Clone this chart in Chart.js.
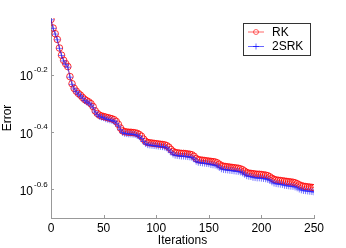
<!DOCTYPE html>
<html lang="en">
  <head>
    <meta charset="UTF-8" />
    <script src="https://cdn.jsdelivr.net/npm/chart.js@4"></script>
    <title>Error vs iterations</title>
    <style>
      body { margin: 0; background: #fff; }
    </style>
  </head>
  <body>
    <canvas id="myChart" width="346" height="248"></canvas>
    <script>
      // iteration number (every 2nd iteration)
      const iterations = [
        0, 2, 4, 6, 8, 10, 12, 14, 16, 18, 20, 22, 24, 26, 28, 30, 32, 34, 36, 38,
        40, 42, 44, 46, 48, 50, 52, 54, 56, 58, 60, 62, 64, 66, 68, 70, 72, 74, 76, 78,
        80, 82, 84, 86, 88, 90, 92, 94, 96, 98, 100, 102, 104, 106, 108, 110, 112, 114, 116, 118,
        120, 122, 124, 126, 128, 130, 132, 134, 136, 138, 140, 142, 144, 146, 148, 150, 152, 154, 156, 158,
        160, 162, 164, 166, 168, 170, 172, 174, 176, 178, 180, 182, 184, 186, 188, 190, 192, 194, 196, 198,
        200, 202, 204, 206, 208, 210, 212, 214, 216, 218, 220, 222, 224, 226, 228, 230, 232, 234, 236, 238,
        240, 242, 244, 246, 248, 250
      ];
      const rkError = [
        0.9886, 0.9226, 0.8810, 0.8414, 0.7852, 0.7413, 0.7112, 0.6918, 0.6761, 0.6237,
        0.5888, 0.5675, 0.5546, 0.5445, 0.5370, 0.5272, 0.5188, 0.5129, 0.5082, 0.5012,
        0.4898, 0.4732, 0.4634, 0.4571, 0.4539, 0.4519, 0.4498, 0.4477, 0.4457, 0.4436,
        0.4406, 0.4345, 0.4246, 0.4121, 0.4027, 0.3999, 0.3990, 0.3981, 0.3981, 0.3972,
        0.3963, 0.3945, 0.3908, 0.3855, 0.3767, 0.3698, 0.3664, 0.3656, 0.3648, 0.3639,
        0.3631, 0.3622, 0.3614, 0.3606, 0.3597, 0.3573, 0.3532, 0.3467, 0.3412, 0.3381,
        0.3373, 0.3365, 0.3357, 0.3357, 0.3350, 0.3342, 0.3334, 0.3319, 0.3281, 0.3221,
        0.3192, 0.3184, 0.3177, 0.3170, 0.3162, 0.3155, 0.3148, 0.3141, 0.3133, 0.3112,
        0.3076, 0.3041, 0.3027, 0.3020, 0.3013, 0.3006, 0.2999, 0.2992, 0.2985, 0.2979,
        0.2965, 0.2944, 0.2911, 0.2877, 0.2864, 0.2858, 0.2851, 0.2844, 0.2838, 0.2838,
        0.2831, 0.2825, 0.2818, 0.2805, 0.2780, 0.2748, 0.2723, 0.2710, 0.2704, 0.2698,
        0.2692, 0.2685, 0.2679, 0.2673, 0.2667, 0.2661, 0.2649, 0.2630, 0.2606, 0.2588,
        0.2576, 0.2570, 0.2564, 0.2559, 0.2553, 0.2547
      ];
      const srkError = [
        0.9856, 0.9198, 0.8784, 0.8389, 0.7828, 0.7391, 0.7076, 0.6883, 0.6727, 0.6206,
        0.5859, 0.5647, 0.5518, 0.5418, 0.5343, 0.5246, 0.5136, 0.5078, 0.5031, 0.4962,
        0.4849, 0.4685, 0.4588, 0.4525, 0.4494, 0.4474, 0.4435, 0.4414, 0.4395, 0.4374,
        0.4344, 0.4284, 0.4187, 0.4063, 0.3971, 0.3943, 0.3934, 0.3925, 0.3925, 0.3916,
        0.3908, 0.3874, 0.3838, 0.3786, 0.3699, 0.3631, 0.3598, 0.3590, 0.3582, 0.3573,
        0.3566, 0.3557, 0.3549, 0.3541, 0.3532, 0.3509, 0.3454, 0.3391, 0.3337, 0.3307,
        0.3299, 0.3291, 0.3283, 0.3283, 0.3276, 0.3268, 0.3261, 0.3246, 0.3209, 0.3150,
        0.3122, 0.3114, 0.3107, 0.3100, 0.3092, 0.3086, 0.3066, 0.3059, 0.3052, 0.3031,
        0.2996, 0.2962, 0.2948, 0.2941, 0.2935, 0.2928, 0.2921, 0.2914, 0.2907, 0.2902,
        0.2888, 0.2867, 0.2835, 0.2802, 0.2790, 0.2784, 0.2765, 0.2759, 0.2753, 0.2753,
        0.2746, 0.2740, 0.2733, 0.2721, 0.2697, 0.2666, 0.2641, 0.2629, 0.2623, 0.2617,
        0.2611, 0.2594, 0.2588, 0.2582, 0.2576, 0.2571, 0.2559, 0.2541, 0.2517, 0.2500,
        0.2488, 0.2483, 0.2477, 0.2472, 0.2466, 0.2460
      ];
      const yTickExponents = [-0.6, -0.4, -0.2];
      const xTicks = [0, 50, 100, 150, 200, 250];

      const FONT = "'Liberation Sans', Arial, sans-serif";
      const AXIS = "#999";

      // MATLAB style: "10" with superscript exponent, inward ticks, boxed legend
      const matlabBits = {
        id: "matlabBits",
        afterDraw(chart) {
          const ctx = chart.ctx;
          const xs = chart.scales.x;
          const ys = chart.scales.y;
          const area = chart.chartArea;
          ctx.save();
          ctx.strokeStyle = AXIS;
          ctx.lineWidth = 1;
          ctx.beginPath();
          xTicks.forEach((t) => {
            const px = Math.round(xs.getPixelForValue(t)) + 0.5;
            ctx.moveTo(px, area.bottom);
            ctx.lineTo(px, area.bottom - 3);
          });
          yTickExponents.forEach((e) => {
            const py = Math.round(ys.getPixelForValue(Math.pow(10, e))) + 0.5;
            ctx.moveTo(area.left, py);
            ctx.lineTo(area.left + 3, py);
          });
          ctx.stroke();

          ctx.fillStyle = "#000";
          yTickExponents.forEach((e) => {
            const py = ys.getPixelForValue(Math.pow(10, e));
            ctx.font = "12px " + FONT;
            ctx.textAlign = "right";
            ctx.textBaseline = "middle";
            ctx.fillText("10", 33, py + 2);
            ctx.font = "8px " + FONT;
            ctx.textAlign = "left";
            ctx.fillText(e.toFixed(1), 34, py - 5);
          });

          // legend
          ctx.fillStyle = "#fff";
          ctx.fillRect(243, 23, 67, 32);
          ctx.strokeStyle = "#333";
          ctx.strokeRect(243.5, 23.5, 67, 32);
          const rows = [
            { label: "RK", color: "#ff0000", y: 32, style: "circle" },
            { label: "2SRK", color: "#0000ff", y: 46.5, style: "plus" },
          ];
          rows.forEach((r) => {
            ctx.strokeStyle = r.color;
            ctx.lineWidth = 0.6;
            ctx.beginPath();
            ctx.moveTo(248, r.y);
            ctx.lineTo(264, r.y);
            ctx.stroke();
            ctx.beginPath();
            if (r.style === "circle") {
              ctx.arc(256, r.y, 2.5, 0, Math.PI * 2);
            } else {
              ctx.moveTo(256, r.y - 3);
              ctx.lineTo(256, r.y + 3);
              ctx.moveTo(253, r.y);
              ctx.lineTo(259, r.y);
            }
            ctx.stroke();
            ctx.fillStyle = "#000";
            ctx.font = "12px " + FONT;
            ctx.textAlign = "left";
            ctx.textBaseline = "middle";
            ctx.fillText(r.label, 272, r.y + 0.5);
          });
          ctx.restore();
        },
      };

      const toPoints = (ys) => iterations.map((x, i) => ({ x: x, y: ys[i] }));

      const ctx = document.getElementById("myChart").getContext("2d");
      const chart = new Chart(ctx, {
        type: "line",
        data: {
          datasets: [
            {
              label: "RK",
              data: toPoints(rkError),
              borderColor: "rgba(255, 0, 0, 0.9)",
              borderWidth: 0.6,
              pointStyle: "circle",
              pointRadius: 3.3,
              pointBorderWidth: 1,
              pointBorderColor: "rgba(255, 0, 0, 0.8)",
              pointBackgroundColor: "rgba(0,0,0,0)",
              order: 1,
            },
            {
              label: "2SRK",
              data: toPoints(srkError),
              borderColor: "rgba(0, 0, 255, 0.9)",
              borderWidth: 0.6,
              pointStyle: "cross",
              pointRadius: 3.3,
              pointBorderWidth: 0.9,
              pointBorderColor: "rgba(40, 40, 255, 0.7)",
              order: 0,
            },
          ],
        },
        options: {
          responsive: false,
          animation: false,
          layout: { padding: { left: 0, right: 32, top: 18, bottom: 0 } },
          plugins: { legend: { display: false }, tooltip: { enabled: false } },
          scales: {
            x: {
              type: "linear",
              min: 0,
              max: 250,
              afterBuildTicks: (s) => { s.ticks = xTicks.map((v) => ({ value: v })); },
              afterFit: (s) => { s.height = 30; },
              grid: { display: false, drawTicks: false },
              border: { color: AXIS, width: 1 },
              ticks: { padding: 3, color: "#000", font: { family: FONT, size: 12 }, maxRotation: 0 },
              title: { display: true, text: "Iterations", color: "#000", padding: 0, font: { family: FONT, size: 12 } },
            },
            y: {
              type: "logarithmic",
              min: Math.pow(10, -0.7),
              max: 1,
              afterBuildTicks: (s) => { s.ticks = yTickExponents.map((e) => ({ value: Math.pow(10, e) })); },
              afterFit: (s) => { s.width = 51; },
              grid: { display: false, drawTicks: false },
              border: { color: AXIS, width: 1 },
              ticks: { display: false },
              title: { display: true, text: "Error", color: "#000", padding: 0, font: { family: FONT, size: 12 } },
            },
          },
        },
        plugins: [matlabBits],
      });
    </script>
  </body>
</html>
